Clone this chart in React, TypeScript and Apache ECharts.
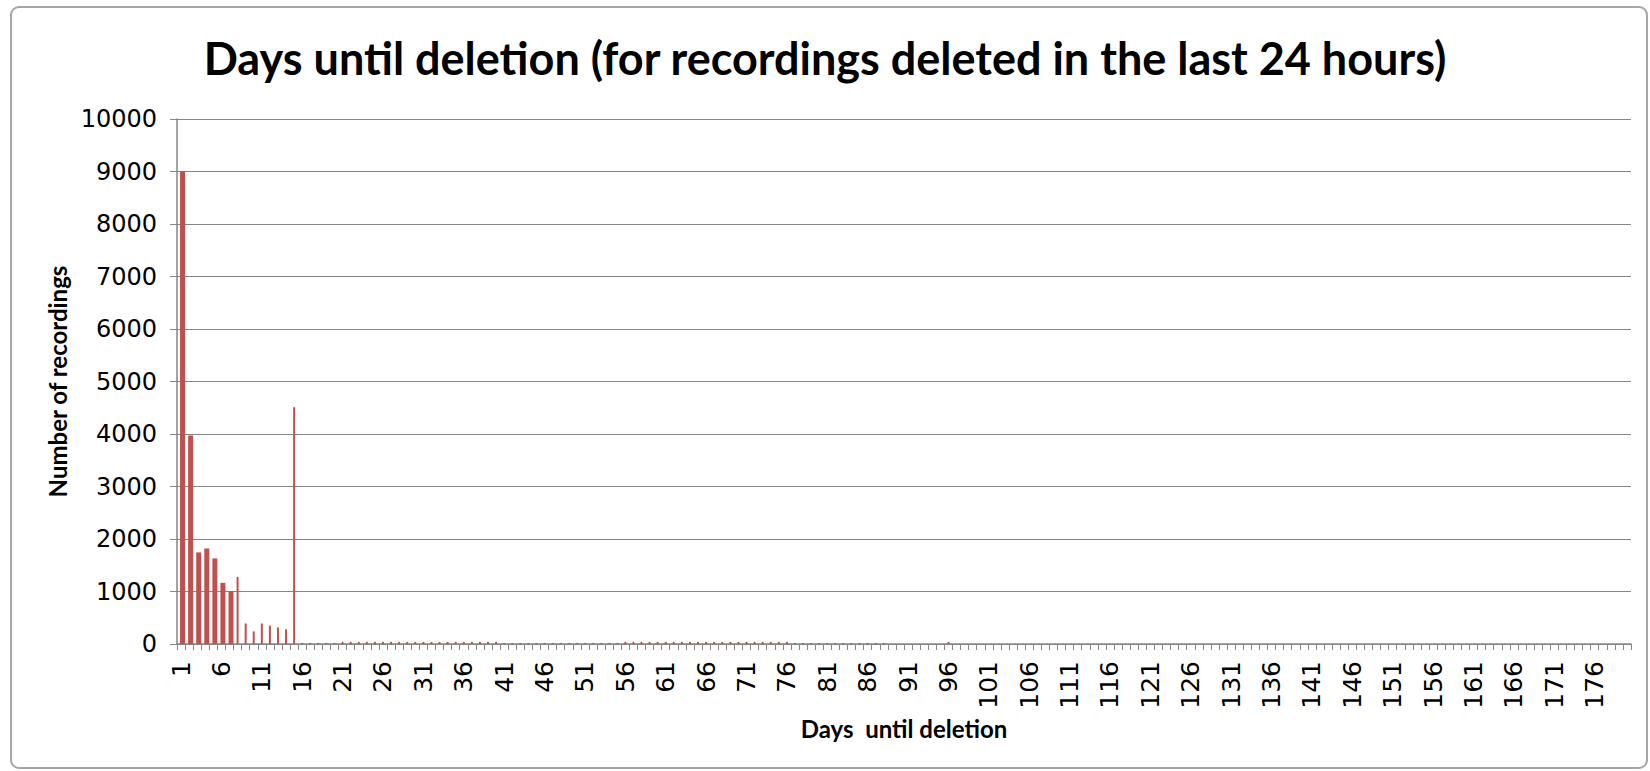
import React, { useEffect, useRef } from "react";
import * as echarts from "echarts";

const TITLE = "Days until deletion (for recordings deleted in the last 24 hours)";
const X_NAME = "Days  until deletion";
const Y_NAME = "Number of recordings";

// Days 1..180
const days: string[] = Array.from({ length: 180 }, (_, i) => String(i + 1));

// Number of recordings per day until deletion
const counts: number[] = [
  9000, 3970, 1745, 1820, 1630, 1165, 1005, 1280, 390, 240,
  390, 350, 315, 280, 4510, 20, 20, 20, 20, 20,
  40, 40, 40, 40, 40, 40, 40, 40, 40, 40,
  40, 40, 40, 40, 40, 40, 40, 40, 40, 40,
  20, 20, 20, 20, 20, 20, 20, 20, 20, 20,
  20, 20, 20, 20, 20, 40, 40, 40, 40, 40,
  40, 40, 40, 40, 40, 40, 40, 40, 40, 40,
  40, 40, 40, 40, 40, 40, 20, 20, 20, 20,
  20, 20, 20, 20, 20, 20, 20, 20, 0, 0,
  0, 0, 0, 0, 0, 40, 0, 0, 0, 0,
  0, 0, 0, 0, 0, 0, 0, 0, 0, 0,
  0, 0, 0, 0, 0, 0, 0, 0, 0, 0,
  0, 0, 0, 0, 0, 0, 0, 0, 0, 0,
  0, 0, 0, 0, 0, 0, 0, 0, 0, 0,
  0, 0, 0, 0, 0, 0, 0, 0, 0, 0,
  0, 0, 0, 0, 0, 0, 0, 0, 0, 0,
  0, 0, 0, 0, 0, 0, 0, 0, 0, 0,
  0, 0, 0, 0, 0, 0, 0, 0, 0, 0,
];

// The first days are drawn with wider bars in the original
const WIDE_DAYS = 7;

export default function App() {
  const ref = useRef<HTMLDivElement>(null);
  useEffect(() => {
    if (!ref.current) return;
    const chart = echarts.init(ref.current, null, { renderer: "svg" });
    const grey = "#868686";
    const barColor = "#C0504D";
    const wide = counts.map((v, i) => (i < WIDE_DAYS ? v : null));
    const thin = counts.map((v, i) => (i >= WIDE_DAYS ? v : null));
    chart.setOption({
      animation: false,
      backgroundColor: "#ffffff",
      title: {
        text: TITLE,
        left: "center",
        top: 30,
        textStyle: { fontFamily: "Lato", fontWeight: "bold", fontSize: 45, color: "#000" },
      },
      graphic: [
        {
          type: "rect",
          shape: { x: 11, y: 7, width: 1636, height: 761, r: 8 },
          style: { fill: "none", stroke: "#a6a6a6", lineWidth: 2 },
          silent: true,
          z: -1,
        },
      ],
      grid: { left: 177, right: 19, top: 119, bottom: 127, containLabel: false },
      xAxis: {
        type: "category",
        data: days,
        boundaryGap: true,
        axisLine: { show: true, lineStyle: { color: grey, width: 1.5 } },
        axisTick: { show: true, interval: 0, length: 6, lineStyle: { color: grey } },
        axisLabel: {
          interval: 4,
          rotate: 90,
          fontSize: 25,
          fontFamily: "DejaVu Sans",
          color: "#000",
          margin: 17,
        },
        splitLine: { show: false },
        name: X_NAME,
        nameLocation: "middle",
        nameGap: 72,
        nameTextStyle: { fontFamily: "Lato", fontWeight: "bold", fontSize: 24, color: "#000" },
      },
      yAxis: {
        type: "value",
        min: 0,
        max: 10000,
        interval: 1000,
        axisLine: { show: true, lineStyle: { color: grey, width: 1.5 } },
        axisTick: { show: true, length: 7, lineStyle: { color: grey } },
        splitLine: { show: true, lineStyle: { color: grey, width: 1.2 } },
        axisLabel: {
          fontSize: 24,
          fontFamily: "DejaVu Sans",
          color: "#000",
          margin: 20,
          formatter: (v: number) => String(v),
        },
        name: Y_NAME,
        nameLocation: "middle",
        nameGap: 98,
        nameRotate: 90,
        nameTextStyle: { fontFamily: "Lato", fontWeight: "bold", fontSize: 24, color: "#000" },
      },
      series: [
        {
          type: "bar",
          name: "wide",
          data: wide,
          barWidth: 5,
          barGap: "-100%",
          itemStyle: { color: barColor },
        },
        {
          type: "bar",
          name: "thin",
          data: thin,
          barWidth: 2,
          barGap: "-100%",
          itemStyle: { color: barColor },
        },
      ],
    });
    return () => chart.dispose();
  }, []);
  return (
    <div
      ref={ref}
      style={{ position: "fixed", left: 0, top: 0, width: 1650, height: 771 }}
    />
  );
}
